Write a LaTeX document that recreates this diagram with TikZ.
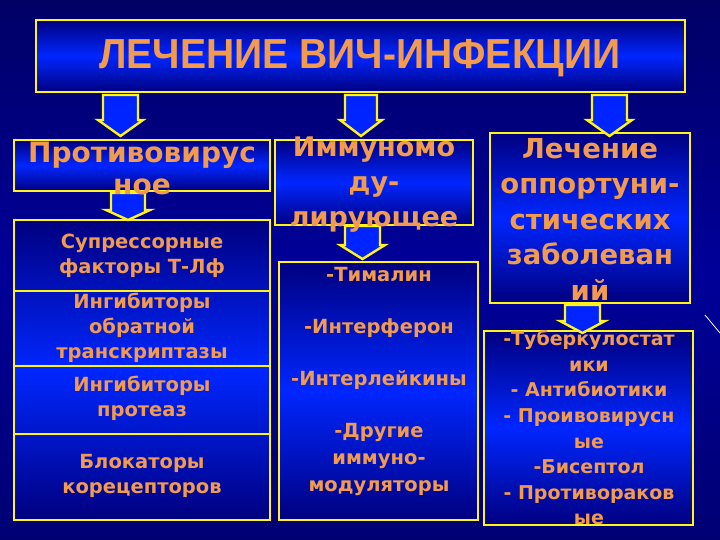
\documentclass[tikz,border=0pt]{standalone}
\usepackage{fontspec}
\setmainfont{DejaVu Sans}
\newfontfamily\narrowfont[FakeStretch=0.93]{Liberation Sans}
\definecolor{salmon}{HTML}{F29A4E}
\begin{document}
\begin{tikzpicture}[x=1pt,y=-1pt,
  bx/.style={draw=yellow!90!white,line width=2.6pt,top color=blue!50!black,bottom color=blue!50!black,middle color=blue!75!cyan!60!blue},
  tx/.style={text=salmon,font=\bfseries,align=center,inner sep=0pt},
  arr/.style={draw=yellow!90!white,line width=2.4pt,fill=blue!80!cyan!70!blue,line join=miter}]
\fill[top color=blue!40!black,bottom color=blue!45!black,middle color=blue!60!black] (0,0) rectangle (720,540);
\useasboundingbox (0,0) rectangle (720,540);
% boxes
\path[bx] (36,20) rectangle (685,92);
\node[tx,font=\narrowfont\bfseries\fontsize{42}{44}\selectfont] (title) at (360,58) {ЛЕЧЕНИЕ ВИЧ-ИНФЕКЦИИ};
\path[bx] (14,140) rectangle (270,191);
\path[bx] (275,140) rectangle (473,225);
\path[bx] (490,133) rectangle (690,303);
\path[bx] (14,220) rectangle (270,520);
\draw[draw=yellow!90!white,line width=2.6pt] (14,291)--(270,291) (14,366)--(270,366) (14,434)--(270,434);
\path[bx] (279,262) rectangle (478,520);
\path[bx] (484,331) rectangle (693,525);
% arrows
\foreach \a/\b/\t/\bb/\tip in {103/138/95/120/136, 345/377/95/120/136, 592/627/95/120/136, 111/145/193/210/220, 345/380/226/245/259, 565/600/305/321/333}{
  \draw[arr] (\a,\t)--(\b,\t)--(\b,\bb)--({\b+5},\bb)--({(\a+\b)/2},\tip)--({\a-5},\bb)--(\a,\bb)--cycle;
}
% texts
\node[tx,font=\bfseries\fontsize{28}{32}\selectfont] (anti) at (142,168) {Противовирус\\ное};
\node[tx,font=\bfseries\fontsize{27}{35}\selectfont] (immu) at (374,185) {Иммуномо\\ду-\\лирующее};
\node[tx,font=\bfseries\fontsize{27.5}{35.5}\selectfont] (opp) at (590,219) {Лечение\\оппортуни-\\стических\\заболеван\\ий};
\node[tx,font=\bfseries\fontsize{19.5}{25}\selectfont] (l1) at (142,256) {Супрессорные\\факторы Т-Лф};
\node[tx,font=\bfseries\fontsize{19.5}{25}\selectfont] (l2) at (142,328) {Ингибиторы\\обратной\\транскриптазы};
\node[tx,font=\bfseries\fontsize{19.5}{25}\selectfont] (l3) at (142,398) {Ингибиторы\\протеаз};
\node[tx,font=\bfseries\fontsize{19.5}{25}\selectfont] (l4) at (142,476) {Блокаторы\\корецепторов};
\node[tx,font=\bfseries\fontsize{19.5}{26}\selectfont] (m1) at (379,275) {-Тималин};
\node[tx,font=\bfseries\fontsize{19.5}{26}\selectfont] (m2) at (379,328) {-Интерферон};
\node[tx,font=\bfseries\fontsize{19.5}{26}\selectfont] (m3) at (379,380) {-Интерлейкины};
\node[tx,font=\bfseries\fontsize{19.5}{27}\selectfont] (m4) at (379,459) {-Другие\\иммуно-\\модуляторы};
\node[tx,font=\bfseries\fontsize{19}{25.6}\selectfont] (r1) at (589,428) {-Туберкулостат\\ики\\- Антибиотики\\- Проивовирусн\\ые\\-Бисептол\\- Противораков\\ые};
\draw[white,line width=0.8pt] (705,315)--(720,333);
\end{tikzpicture}
\end{document}
